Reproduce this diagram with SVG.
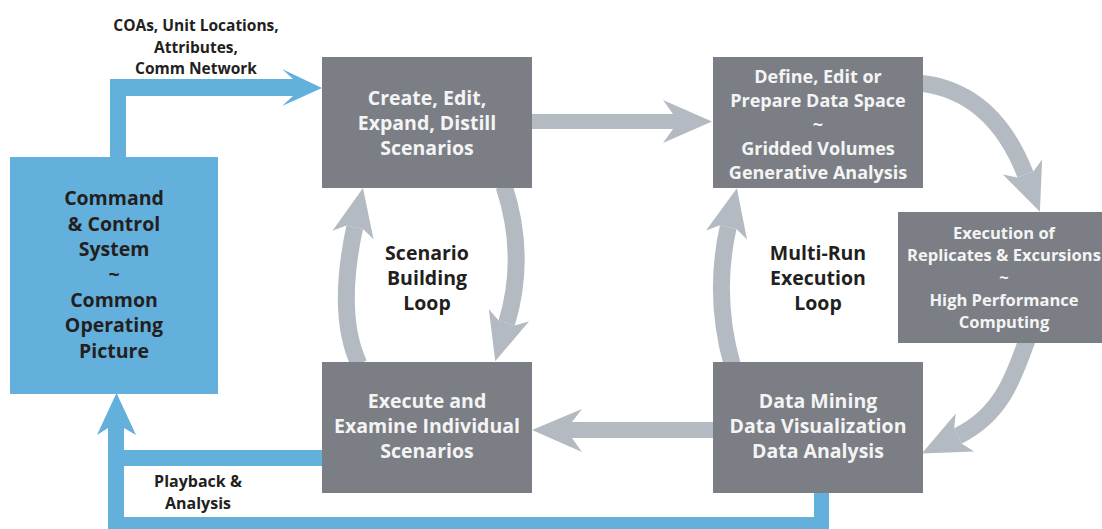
<svg xmlns="http://www.w3.org/2000/svg" width="1102" height="529" viewBox="0 0 1102 529">
<style>
  text { font-family: "Open Sans", "Noto Sans", "Liberation Sans", sans-serif; font-weight: 700; text-anchor: middle; }
  .box { fill: #7b7f85; }
  .blue { fill: #63b0dc; }
  .wt { fill: #f4f4f4; }
  .bk { fill: #231f20; }
  .arc { fill: none; stroke: #b4bac1; stroke-width: 17; }
  .ghead { fill: #b4bac1; }
</style>
<rect width="1102" height="529" fill="#ffffff"/>
<g id="connectors">
  <!-- blue: C2 to Create -->
  <path class="blue" d="M110,160 L110,79 L293,79 L282,69 L322,88 L282,106 L293,96 L126,96 L126,160 Z"/>
  <!-- blue: Execute / Data Mining back to C2 -->
  <path class="blue" d="M814,490 L829,490 L829,535 L108,535 L108,428 L97,435 L116.5,393 L136,435 L124,428 L124,450 L325,450 L325,466 L124,466 L124,517 L814,517 Z"/>
  <!-- gray straight arrows -->
  <path class="ghead" d="M530,114 L673,114 L663,100 L712,121.5 L663,143 L673,129 L530,129 Z"/>
  <path class="ghead" d="M715,422 L572,422 L582,409 L532,430 L582,452 L572,438 L715,438 Z"/>
  <!-- scenario loop left (up) -->
  <path class="arc" d="M359,364 Q336,315 354.7,227.2"/>
  <path class="ghead" d="M332.5,230.7 L363,188.1 L373.5,239.3 L363,229 L346.4,225.4 Z"/>
  <!-- scenario loop right (down) -->
  <path class="arc" d="M504,186 Q527,256 506.7,323"/>
  <path class="ghead" d="M529.1,321.3 L495.2,361.3 L488.9,309.3 L498.6,320.6 L514.8,325.4 Z"/>
  <!-- multi-run loop left (up) -->
  <path class="arc" d="M732,364 Q712.9,295.5 728.2,227.2"/>
  <path class="ghead" d="M706,230.4 L736.9,188.2 L747,239.6 L736.5,229.1 L719.9,225.3 Z"/>
  <!-- big arc top -->
  <path class="arc" d="M918,83 Q992.6,90 1025.4,174.5"/>
  <path class="ghead" d="M1002.9,174.6 L1039.9,211.8 L1042.1,159.4 L1033.3,171.4 L1017.5,177.6 Z"/>
  <!-- big arc bottom -->
  <path class="arc" d="M1027,340 C1013,380 1000,415.4 957.8,436"/>
  <path class="ghead" d="M974.2,451.4 L921.8,453.6 L955.8,413.6 L954.1,428.4 L961.5,443.6 Z"/>
</g>
<g id="node-c2">
  <rect class="blue" x="10" y="157" width="208" height="237"/>
  <text class="bk" font-size="19.5" x="114" y="205">Command</text>
  <text class="bk" font-size="19.5" x="114" y="231">&amp; Control</text>
  <text class="bk" font-size="19.5" x="114" y="256">System</text>
  <text class="bk" font-size="19.5" x="114" y="281">~</text>
  <text class="bk" font-size="19.5" x="114" y="307">Common</text>
  <text class="bk" font-size="19.5" x="114" y="332">Operating</text>
  <text class="bk" font-size="19.5" x="114" y="358">Picture</text>
</g>
<g id="node-create">
  <rect class="box" x="322" y="57" width="210" height="131"/>
  <text class="wt" font-size="19.5" x="427" y="105">Create, Edit,</text>
  <text class="wt" font-size="19.5" x="427" y="130">Expand, Distill</text>
  <text class="wt" font-size="19.5" x="427" y="155">Scenarios</text>
</g>
<g id="node-define">
  <rect class="box" x="713" y="57" width="210" height="131"/>
  <text class="wt" font-size="18" x="818" y="82.5">Define, Edit or</text>
  <text class="wt" font-size="18" x="818" y="106.5">Prepare Data Space</text>
  <text class="wt" font-size="18" x="818" y="130.5">~</text>
  <text class="wt" font-size="18" x="818" y="154.5">Gridded Volumes</text>
  <text class="wt" font-size="18" x="818" y="178.5">Generative Analysis</text>
</g>
<g id="node-execution">
  <rect class="box" x="898" y="212" width="212" height="131"/>
  <text class="wt" font-size="16.5" x="1004" y="239">Execution of</text>
  <text class="wt" font-size="16.5" x="1004" y="261">Replicates &amp; Excursions</text>
  <text class="wt" font-size="16.5" x="1004" y="283">~</text>
  <text class="wt" font-size="16.5" x="1004" y="306">High Performance</text>
  <text class="wt" font-size="16.5" x="1004" y="328">Computing</text>
</g>
<g id="node-execute">
  <rect class="box" x="322" y="362" width="210" height="131"/>
  <text class="wt" font-size="19.5" x="427" y="408">Execute and</text>
  <text class="wt" font-size="19.5" x="427" y="433">Examine Individual</text>
  <text class="wt" font-size="19.5" x="427" y="458">Scenarios</text>
</g>
<g id="node-datamining">
  <rect class="box" x="713" y="362" width="210" height="131"/>
  <text class="wt" font-size="19.5" x="818" y="408">Data Mining</text>
  <text class="wt" font-size="19.5" x="818" y="433">Data Visualization</text>
  <text class="wt" font-size="19.5" x="818" y="458">Data Analysis</text>
</g>
<g id="labels">
  <text class="bk" font-size="15.5" x="196" y="30.5">COAs, Unit Locations,</text>
  <text class="bk" font-size="15.5" x="196" y="52.5">Attributes,</text>
  <text class="bk" font-size="15.5" x="196" y="73.5">Comm Network</text>
  <text class="bk" font-size="19.5" x="427" y="260">Scenario</text>
  <text class="bk" font-size="19.5" x="427" y="285">Building</text>
  <text class="bk" font-size="19.5" x="427" y="310">Loop</text>
  <text class="bk" font-size="19.5" x="818" y="260">Multi-Run</text>
  <text class="bk" font-size="19.5" x="818" y="285">Execution</text>
  <text class="bk" font-size="19.5" x="818" y="310">Loop</text>
  <text class="bk" font-size="16" x="198" y="487">Playback &amp;</text>
  <text class="bk" font-size="16" x="198" y="509">Analysis</text>
</g>
</svg>
